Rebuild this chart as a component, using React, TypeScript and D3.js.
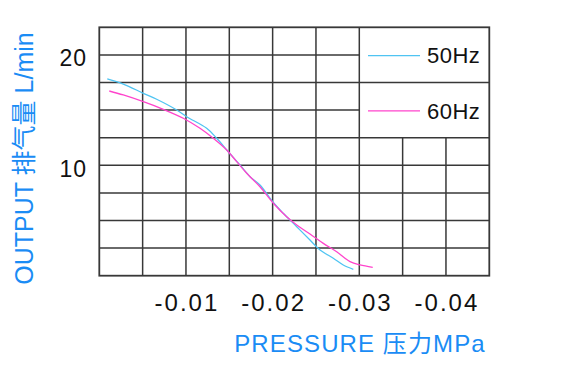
import React from "react";
import * as d3 from "d3";

const W = 581;
const H = 375;

// x values are pressure magnitudes (MPa, shown as negative)
const x50 = [0.00092, 0.00277, 0.00508, 0.00662, 0.00893, 0.01008, 0.01239, 0.01355, 0.01488, 0.01623, 0.01739, 0.01854, 0.02001, 0.02123, 0.02278, 0.02431, 0.02547, 0.027, 0.02815, 0.02931];
const y50 = [17.82, 17.36, 16.52, 15.98, 15.01, 14.4, 13.35, 12.45, 11.23, 10.03, 8.97, 8.22, 6.7, 5.65, 4.44, 3.23, 2.33, 1.58, 0.97, 0.58];
const x60 = [0.00115, 0.00277, 0.00508, 0.00738, 0.00969, 0.01162, 0.01315, 0.0147, 0.01585, 0.01701, 0.01854, 0.02008, 0.02162, 0.02278, 0.02431, 0.02585, 0.02739, 0.02893, 0.03008, 0.03155];
const y60 = [16.73, 16.37, 15.76, 15.07, 14.26, 13.35, 12.45, 11.39, 10.33, 9.28, 8.06, 6.56, 5.34, 4.59, 3.78, 2.93, 2.17, 1.27, 0.97, 0.76];

const xTicks = [0.01, 0.02, 0.03, 0.04];
const xTickLabels = ["-0.01", "-0.02", "-0.03", "-0.04"];
const yTicks = [10, 20];
const yTickLabels = ["10", "20"];
const seriesNames = ["50Hz", "60Hz"];
const seriesColors = ["#4fc4f2", "#ff44cc"];

const X_MAX = 0.045;
const Y_MAX = 22.5;
const X_STEP = 0.005;
const Y_STEP = 2.5;

const FONT = "'Liberation Sans', Arial, 'Noto Sans CJK SC', sans-serif";
const BLUE = "#1a8cf5";
const GRID = "#383838";

export default function App() {
  const left = 99.3, right = 489.3, top = 27.3, bottom = 275.7;
  const x = d3.scaleLinear().domain([0, X_MAX]).range([left, right]);
  const y = d3.scaleLinear().domain([0, Y_MAX]).range([bottom, top]);

  const line = d3
    .line<[number, number]>()
    .x((d) => x(d[0]))
    .y((d) => y(d[1]))
    .curve(d3.curveCatmullRom.alpha(0.5));

  const d50 = line(x50.map((v, i) => [v, y50[i]] as [number, number])) || "";
  const d60 = line(x60.map((v, i) => [v, y60[i]] as [number, number])) || "";

  const nx = Math.round(X_MAX / X_STEP);
  const ny = Math.round(Y_MAX / Y_STEP);
  const legendLeftCol = 6;
  const legendBottomRowFromTop = 4;

  const vLines: JSX.Element[] = [];
  for (let i = 1; i < nx; i++) {
    const xv = i * X_STEP;
    const yTopVal = i > legendLeftCol ? Y_MAX - legendBottomRowFromTop * Y_STEP : Y_MAX;
    vLines.push(
      <line key={"v" + i} x1={x(xv)} x2={x(xv)} y1={y(yTopVal)} y2={y(0)} stroke={GRID} strokeWidth={1.5} />
    );
  }
  const hLines: JSX.Element[] = [];
  for (let j = 1; j < ny; j++) {
    const fromTop = ny - j;
    const yv = j * Y_STEP;
    const partial = fromTop < legendBottomRowFromTop && fromTop % 2 === 1;
    const xEnd = partial ? legendLeftCol * X_STEP : X_MAX;
    hLines.push(
      <line key={"h" + j} x1={x(0)} x2={x(xEnd)} y1={y(yv)} y2={y(yv)} stroke={GRID} strokeWidth={1.5} />
    );
  }

  const legendY = [Y_MAX - 1 * Y_STEP, Y_MAX - 3 * Y_STEP];

  return (
    <svg width={W} height={H} style={{ position: "absolute", left: 0, top: 0, background: "#fff" }} fontFamily={FONT}>
      <rect x={0} y={0} width={W} height={H} fill="#fff" />
      {vLines}
      {hLines}
      <rect x={left} y={top} width={right - left} height={bottom - top} fill="none" stroke={GRID} strokeWidth={1.8} />

      <path d={d50} fill="none" stroke={seriesColors[0]} strokeWidth={1.3} />
      <path d={d60} fill="none" stroke={seriesColors[1]} strokeWidth={1.3} />

      {seriesNames.map((name, i) => (
        <g key={name}>
          <line x1={368} x2={420} y1={y(legendY[i]) + 0.8} y2={y(legendY[i]) + 0.8} stroke={seriesColors[i]} strokeWidth={1.3} />
          <text x={427} y={y(legendY[i]) + 8.5} fontSize={22} letterSpacing={0.5} fill="#111">
            {name}
          </text>
        </g>
      ))}

      {xTicks.map((t, i) => (
        <text key={t} x={x(t) + 1} y={310.5} fontSize={24} letterSpacing={2} textAnchor="middle" fill="#111">
          {xTickLabels[i]}
        </text>
      ))}
      {yTicks.map((t, i) => (
        <text key={t} x={87} y={y(t) + 11.5} fontSize={23} letterSpacing={1} textAnchor="end" fill="#111">
          {yTickLabels[i]}
        </text>
      ))}

      <text x={360} y={352} fontSize={24} letterSpacing={1.1} textAnchor="middle" fill={BLUE}>
        PRESSURE 压力MPa
      </text>
      <text transform="translate(33,158.5) rotate(-90)" fontSize={25} textAnchor="middle" fill={BLUE}>
        OUTPUT 排气量 L/min
      </text>
    </svg>
  );
}
